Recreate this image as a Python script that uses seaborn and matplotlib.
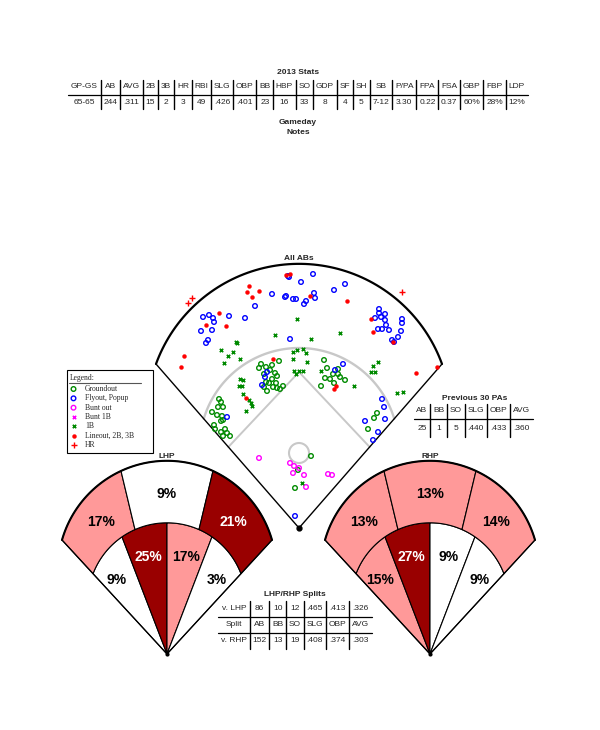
import numpy as np
import pandas as pd
import matplotlib
matplotlib.use("Agg")
from matplotlib import pyplot as plt
from matplotlib.patches import Rectangle, Circle
import seaborn as sns

# ---- season table ----
stat_names = ["GP-GS", "AB", "AVG", "2B", "3B", "HR", "RBI", "SLG", "OBP", "BB", "HBP",
              "SO", "GDP", "SF", "SH", "SB", "P/PA", "FPA", "FSA", "GBP", "FBP", "LDP"]
stat_values = ["65-65", "244", ".311", "15", "2", "3", "49", ".426", ".401", "23", "16",
               "33", "8", "4", "5", "7-12", "3.30", "0.22", "0.37", "60%", "28%", "12%"]

prev_names = ["AB", "BB", "SO", "SLG", "OBP", "AVG"]
prev_values = ["25", "1", "5", ".440", ".433", ".360"]

split_names = ["Split", "AB", "BB", "SO", "SLG", "OBP", "AVG"]
split_lhp = ["v. LHP", "86", "10", "12", ".465", ".413", ".326"]
split_rhp = ["v. RHP", "152", "13", "19", ".408", ".374", ".303"]

# ---- zone percentages (outer ring L->R, inner ring L->R) ----
lhp_outer = [17, 9, 21]
lhp_inner = [9, 25, 17, 3]
rhp_outer = [13, 13, 14]
rhp_inner = [15, 27, 9, 9]

# ---- batted balls, field units, home plate at (0, 0) ----
groundouts = [(-20, 167), (-38, 164), (-40, 160), (-33, 161), (-27, 163), (-29, 158), (-35, 154),
              (-24, 155), (-22, 152), (-27, 149), (-33, 146), (-30, 145), (-23, 145), (-26, 141),
              (-32, 137), (-22, 140), (-16, 142), (-19, 139), (-35, 141), (-80, 129), (-78, 126),
              (-81, 121), (-76, 121), (-87, 116), (-82, 113), (-77, 112), (-78, 107), (-76, 108),
              (-85, 103), (-84, 99), (-74, 99), (-78, 96), (-72, 95), (-76, 92), (-69, 92),
              (25, 168), (28, 160), (39, 159), (34, 154), (39, 154), (26, 150), (31, 149),
              (41, 151), (35, 145), (46, 148), (22, 142), (78, 115), (75, 110), (69, 99),
              (12, 72), (-1, 58), (-4, 40)]
flyouts = [(-10, 251), (-11, 252), (-27, 234), (-14, 231), (-13, 232), (-6, 229), (-3, 229),
           (-44, 222), (-54, 210), (-70, 212), (-90, 213), (-96, 211), (-86, 210), (-85, 206),
           (-98, 197), (-87, 198), (-91, 188), (-93, 185), (-9, 189), (14, 254), (2, 246),
           (46, 244), (35, 238), (15, 235), (16, 230), (7, 227), (5, 224), (80, 219), (80, 215),
           (86, 214), (82, 211), (76, 210), (86, 208), (87, 203), (83, 199), (79, 199), (90, 198),
           (103, 209), (103, 205), (102, 197), (99, 191), (93, 188), (95, 186), (-32, 156),
           (-34, 151), (-37, 143), (-72, 111), (44, 164), (36, 158), (83, 129), (85, 121),
           (86, 109), (66, 107), (79, 96), (74, 88), (-4, 12)]
bunt_outs = [(-40, 70), (-9, 65), (-5, 62), (0, 60), (-6, 55), (5, 53), (7, 41), (29, 54), (33, 53)]
bunt_singles = []
singles = [(-2, 209), (-24, 193), (-63, 186), (-62, 185), (-78, 178), (-66, 176), (-71, 172),
           (-59, 169), (-75, 165), (41, 195), (12, 189), (-6, 176), (-2, 178), (4, 179), (7, 175),
           (-6, 169), (8, 166), (-5, 157), (-3, 154), (4, 157), (0, 157), (22, 157), (74, 162),
           (79, 166), (72, 156), (76, 156), (55, 142), (98, 135), (104, 136), (-59, 149),
           (-56, 148), (-60, 142), (-57, 142), (-56, 134), (-50, 128), (-48, 125), (-47, 122),
           (-53, 117), (3, 45)]
lineouts = [(-13, 253), (-9, 254), (-50, 242), (-52, 236), (-40, 237), (-47, 231), (-80, 215),
            (-93, 203), (-73, 202), (-115, 172), (-118, 161), (11, 232), (48, 227), (72, 209),
            (74, 196), (94, 186), (138, 161), (117, 155), (-26, 169), (-53, 130), (37, 142),
            (35, 139)]
homers = [(-107, 230), (-111, 225), (103, 236)]

results = {"Groundout": groundouts, "Flyout, Popup": flyouts, "Bunt out": bunt_outs,
           "Bunt 1B": bunt_singles, "1B": singles, "Lineout, 2B, 3B": lineouts, "HR": homers}

GREEN, BLUE, MAG, RED = "#008a00", "#0000ff", "#ff00ff", "#ff0000"
styles = {
    "Groundout": dict(marker="o", s=11, facecolor="none", edgecolor=GREEN, linewidth=1.0),
    "Flyout, Popup": dict(marker="o", s=11, facecolor="none", edgecolor=BLUE, linewidth=1.0),
    "Bunt out": dict(marker="o", s=11, facecolor="none", edgecolor=MAG, linewidth=1.0),
    "Bunt 1B": dict(marker="x", s=6, color=MAG, linewidth=1.1),
    "1B": dict(marker="x", s=6, color=GREEN, linewidth=1.2),
    "Lineout, 2B, 3B": dict(marker="o", s=8, color=RED, edgecolor=RED, linewidth=0.3),
    "HR": dict(marker="+", s=14, color=RED, linewidth=1.0),
}

DARK, PINK = "#990000", "#ff9999"

sns.set_style("white")
plt.rcParams["font.family"] = ["Liberation Sans", "DejaVu Sans"]

W, H = 600, 730
fig = plt.figure(figsize=(W / 100, H / 100), dpi=100)

ax_o = fig.add_axes([0, 0, 1, 1])
ax_o.set_xlim(0, W)
ax_o.set_ylim(H, 0)
ax_o.axis("off")


def draw_table(ax, rows, cx, ys, hlines, vtop, vbot, pad=5.5, fs=6):
    rend = ax.figure.canvas.get_renderer()
    widths = []
    for j in range(len(rows[0])):
        w = 0
        for row in rows:
            t = ax.text(0, 0, row[j], fontsize=fs)
            w = max(w, t.get_window_extent(rend).width)
            t.remove()
        widths.append(w + pad)
    edges = cx - sum(widths) / 2 + np.concatenate([[0], np.cumsum(widths)])
    for row, y in zip(rows, ys):
        for j, s in enumerate(row):
            ax.text((edges[j] + edges[j + 1]) / 2, y, s, ha="center", va="center", fontsize=fs)
    for e in edges[1:-1]:
        ax.plot([e, e], [vtop, vbot], color="k", lw=1.0)
    for h in hlines:
        ax.plot([edges[0], edges[-1]], [h, h], color="k", lw=0.9)


bold = dict(ha="center", va="center", fontsize=6, fontweight="bold")
ax_o.text(298, 73, "2013 Stats", **bold)
draw_table(ax_o, [stat_names, stat_values], 298, [87, 102], [94.5], 80, 109)
ax_o.text(298, 122, "Gameday", **bold)
ax_o.text(298, 132, "Notes", **bold)

ax_o.text(475, 398, "Previous 30 PAs", **bold)
draw_table(ax_o, [prev_names, prev_values], 473, [411, 429], [419], 404, 437)

ax_o.text(295, 594, "LHP/RHP Splits", **bold)
draw_table(ax_o, [split_lhp, split_names, split_rhp], 295, [608, 625, 641], [617, 633], 601, 649)

# legend box
ax_o.add_patch(Rectangle((67, 370), 86, 83, fill=False, ec="k", lw=0.8))
ax_o.plot([69, 141], [382.5, 382.5], color="#555555", lw=0.8)
serif = ["Liberation Serif", "DejaVu Serif"]
ax_o.text(70, 377.5, "Legend:", fontsize=5.5, family=serif, va="center")
for i, name in enumerate(results):
    y = 389 + i * 9.35
    ax_o.scatter([73.5], [y], **styles[name])
    ax_o.text(85, y, name, fontsize=5.5, family=serif, va="center")

# ---- the field ----
ax_f = fig.add_axes([140 / W, 1 - 540 / H, 320 / W, 290 / H])
ax_f.patch.set_visible(False)


def arc(cy, r, x0, x1, n=90):
    a0 = np.arctan2(np.sqrt(max(r * r - x0 * x0, 0)), x0)
    a1 = np.arctan2(np.sqrt(max(r * r - x1 * x1, 0)), x1)
    a = np.linspace(a0, a1, n)
    return r * np.cos(a), cy + r * np.sin(a)


def line_hit(k, cy, r):
    # x>0 where y = k*x meets circle centred (0, cy)
    a, b, c = 1 + k * k, -2 * cy * k, cy * cy - r * r
    return (-b + np.sqrt(b * b - 4 * a * c)) / (2 * a)


fx, fy = 143, 164
k = fy / fx
of_c = 112
of_r = np.hypot(fx, fy - of_c)
if_c, if_r = 80.5, 99.5
ix = line_hit(k, if_c, if_r)
grey = "#c8c8c8"

ax_f.plot(*arc(if_c, if_r, -ix, ix), color=grey, lw=1.7, zorder=1)
base = 81 / k
ax_f.plot([-base, 0, base], [81, 156, 81], color=grey, lw=1.4, zorder=1)
ax_f.add_patch(Circle((0, 75), 10, fill=False, ec=grey, lw=1.5, zorder=1))
ax_f.plot([-fx, 0, fx], [fy, 0, fy], color="k", lw=1.0, zorder=2)
ax_f.plot(*arc(of_c, of_r, -fx, fx), color="k", lw=1.6, zorder=2)
ax_f.plot([0], [0], "ko", ms=3.5, zorder=5)
ax_f.text(0, 269, "All ABs", **bold)

bip = pd.concat([pd.DataFrame(pts, columns=["x", "y"]).assign(result=name)
                 for name, pts in results.items() if len(pts)], ignore_index=True)
for name, st in styles.items():
    sub = bip[bip["result"] == name]
    if len(sub):
        sns.scatterplot(data=sub, x="x", y="y", ax=ax_f, legend=False, zorder=3, **st)
ax_f.set_xlim(-159, 161)
ax_f.set_ylim(-12, 278)
ax_f.axis("off")


# ---- hot zone fans ----
def zone_color(v):
    return DARK if v >= 20 else (PINK if v >= 10 else "white")


def draw_fan(apex_x, outer, inner, title):
    ax = fig.add_axes([(apex_x - 115) / W, 1 - 662 / H, 230 / W, 210 / H])
    ax.set_xlim(-115, 115)
    ax.set_ylim(-8, 202)
    ax.axis("off")
    ax.patch.set_visible(False)
    cx, cy = 105, 114
    oc = 84
    orr = np.hypot(cx, cy - oc)
    ic, ir = 52, 79.2
    ex = line_hit(cy / cx, ic, ir)
    ib = [-ex, -45, 0, 45, ex]
    for i, v in enumerate(inner):
        xs, ys = arc(ic, ir, ib[i], ib[i + 1])
        ax.fill(np.r_[0, xs], np.r_[0, ys], fc=zone_color(v), ec="k", lw=0.8)
    ob_in = [-ex, -32, 32, ex]
    ob_out = [-cx, -46, 46, cx]
    for j, v in enumerate(outer):
        xo, yo = arc(oc, orr, ob_out[j], ob_out[j + 1])
        xi, yi = arc(ic, ir, ob_in[j + 1], ob_in[j])
        ax.fill(np.r_[xo, xi], np.r_[yo, yi], fc=zone_color(v), ec="k", lw=0.8)
    ax.plot(*arc(oc, orr, -cx, cx), color="k", lw=1.5)
    ax.plot([-cx, 0, cx], [cy, 0, cy], color="k", lw=0.9)
    ax.plot([0], [0], "ko", ms=2)
    out_pos = [(-66, 132), (0, 160), (66, 132)]
    in_pos = [(-50, 74), (-19, 97), (19, 97), (50, 74)]
    for (px, py), v in list(zip(out_pos, outer)) + list(zip(in_pos, inner)):
        ax.text(px, py, f"{v}%", ha="center", va="center", fontsize=10, fontweight="bold",
                color="white" if v >= 20 else "black")
    ax.text(0, 198, title, **bold)


draw_fan(167, lhp_outer, lhp_inner, "LHP")
draw_fan(430, rhp_outer, rhp_inner, "RHP")

fig.savefig("out.png", dpi=100)
